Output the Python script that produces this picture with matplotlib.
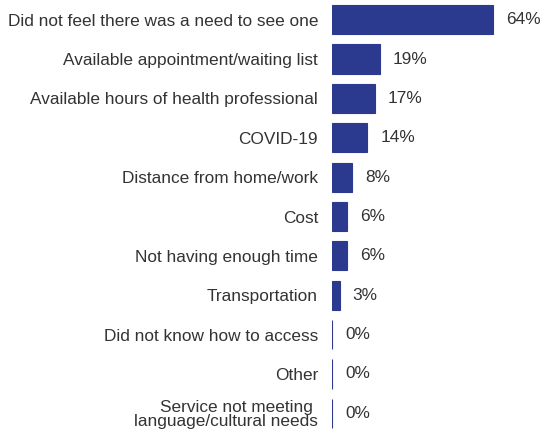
import matplotlib
matplotlib.use("Agg")
import matplotlib.pyplot as plt

reasons = [
    "Did not feel there was a need to see one",
    "Available appointment/waiting list",
    "Available hours of health professional",
    "COVID-19",
    "Distance from home/work",
    "Cost",
    "Not having enough time",
    "Transportation",
    "Did not know how to access",
    "Other",
    "Service not meeting \nlanguage/cultural needs",
]
percent = [64, 19, 17, 14, 8, 6, 6, 3, 0, 0, 0]

bar_color = "#2b3a8e"
text_color = "#333333"
plt.rcParams["font.family"] = ["Liberation Sans", "DejaVu Sans"]

fig = plt.figure(figsize=(5.43, 4.36), dpi=100)
ax = fig.add_axes([332 / 543, 1 - 433 / 436, 211 / 543, 433 / 436])

ypos = list(range(len(reasons)))
ax.barh(ypos, percent, height=0.74, color=bar_color, edgecolor=bar_color, linewidth=0.8)

for y, v in zip(ypos, percent):
    ax.annotate(f"{v}%", xy=(v, y), xytext=(9.5, 0), textcoords="offset points",
                ha="left", va="center", fontsize=12.4, color=text_color)

ax.set_yticks(ypos)
ax.set_yticklabels(reasons, fontsize=12.4, color=text_color, linespacing=0.95)
ax.tick_params(axis="y", length=0, pad=10)
ax.set_xticks([])
ax.set_xlim(0, 211 / 2.52)
ax.set_ylim(len(reasons) - 0.5, -0.5)
for s in ax.spines.values():
    s.set_visible(False)

fig.savefig("out.png", dpi=100)
